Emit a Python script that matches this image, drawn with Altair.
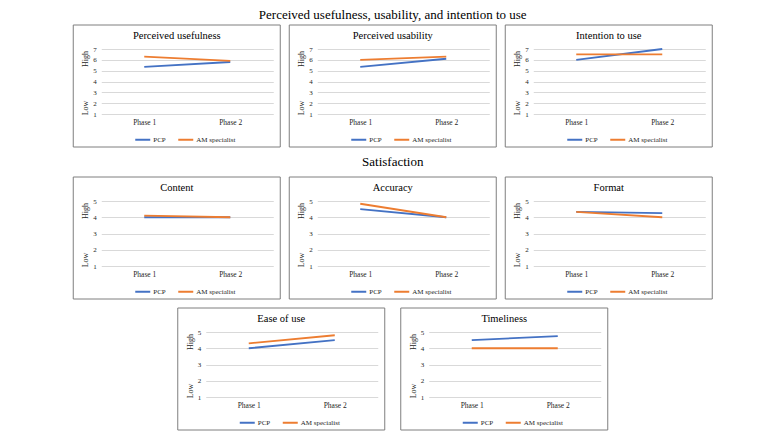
import altair as alt
import pandas as pd

# ---------------- data ----------------
phases = ["Phase 1", "Phase 2"]
groups = ["PCP", "AM specialist"]
panel_titles = ["Perceived usefulness", "Perceived usability", "Intention to use",
                "Content", "Accuracy", "Format",
                "Ease of use", "Timeliness"]
pcp_values = [[5.35, 5.8], [5.35, 6.1], [6.0, 7.0],
              [4.0, 4.0], [4.5, 4.0], [4.33, 4.25],
              [4.0, 4.5], [4.5, 4.75]]
am_values = [[6.3, 5.9], [6.0, 6.3], [6.5, 6.5],
             [4.1, 4.0], [4.83, 4.0], [4.33, 4.0],
             [4.3, 4.8], [4.0, 4.0]]
y_max = [7, 7, 7, 5, 5, 5, 5, 5]
section_titles = ["Perceived usefulness, usability, and intention to use", "Satisfaction"]

# ---------------- style ----------------
SERIF = "Liberation Serif"
BLUE = "#4472C4"
ORANGE = "#ED7D31"
PW, PH = 172, 65          # plot area
BL, BT, BW, BH = 28, 24, 207, 122   # box offset/size relative to plot


def panel(i):
    rows = []
    for g, vals in zip(groups, [pcp_values[i], am_values[i]]):
        for p, v in zip(phases, vals):
            rows.append({"phase": p, "group": g, "value": v})
    df = pd.DataFrame(rows)
    ymax = y_max[i]
    one = alt.Data(values=[{"k": 1}])

    box = alt.Chart(one).mark_rect(
        fillOpacity=0, stroke="#7f7f7f", strokeWidth=1
    ).encode(
        x=alt.value(-BL), x2=alt.value(BW - BL),
        y=alt.value(-BT), y2=alt.value(BH - BT),
    )

    lines = alt.Chart(df).mark_line(strokeWidth=1.8).encode(
        x=alt.X("phase:N", sort=phases,
                scale=alt.Scale(type="point", padding=0.5),
                axis=alt.Axis(title=None, labelAngle=0, domain=False, ticks=False,
                              grid=False, labelFont=SERIF, labelFontSize=7.5,
                              labelColor="#262626", labelPadding=4)),
        y=alt.Y("value:Q",
                scale=alt.Scale(domain=[1, ymax], nice=False, zero=False),
                axis=alt.Axis(title=None, values=list(range(1, ymax + 1)),
                              domain=False, ticks=False, grid=True,
                              gridColor="#d9d9d9", gridWidth=1,
                              labelFont=SERIF, labelFontSize=7,
                              labelColor="#262626", labelPadding=5)),
        color=alt.Color("group:N",
                        scale=alt.Scale(domain=groups, range=[BLUE, ORANGE]),
                        legend=alt.Legend(title=None, orient="none",
                                          legendX=33, legendY=82,
                                          direction="horizontal",
                                          symbolType="stroke", symbolSize=225,
                                          symbolStrokeWidth=2,
                                          labelFont=SERIF, labelFontSize=7,
                                          labelColor="#262626",
                                          labelOffset=2, columnPadding=8)),
    )

    high = alt.Chart(one).mark_text(
        text="High", angle=270, font=SERIF, fontSize=8, color="#262626"
    ).encode(x=alt.value(-15), y=alt.value(10))
    low = alt.Chart(one).mark_text(
        text="Low", angle=270, font=SERIF, fontSize=8, color="#262626"
    ).encode(x=alt.value(-15), y=alt.value(59))
    ttl = alt.Chart(one).mark_text(
        text=panel_titles[i], font=SERIF, fontSize=10.5, color="#000000",
        align="center", baseline="middle"
    ).encode(x=alt.value(BW / 2 - BL), y=alt.value(-13))

    return alt.layer(box, lines, high, low, ttl).properties(width=PW, height=PH)


def sec_title(t, off):
    return alt.TitleParams(t, font=SERIF, fontSize=13, fontWeight="normal",
                           color="#000000", anchor="middle", offset=off)


row1 = alt.hconcat(panel(0), panel(1), panel(2), spacing=7,
                   title=sec_title(section_titles[0], 3)).resolve_scale(color="independent")
row2 = alt.hconcat(panel(3), panel(4), panel(5), spacing=7,
                   title=sec_title(section_titles[1], 8)).resolve_scale(color="independent")
row3 = alt.hconcat(panel(6), panel(7), spacing=14).resolve_scale(color="independent")

chart = alt.vconcat(row1, row2, row3, spacing=7, center=True).resolve_scale(
    color="independent"
).properties(
    padding={"left": 64, "top": 0, "right": 0, "bottom": 0},
    background="white",
).configure_view(stroke=None)

chart.save("out.html", embed_options={"renderer": "svg", "actions": False})
